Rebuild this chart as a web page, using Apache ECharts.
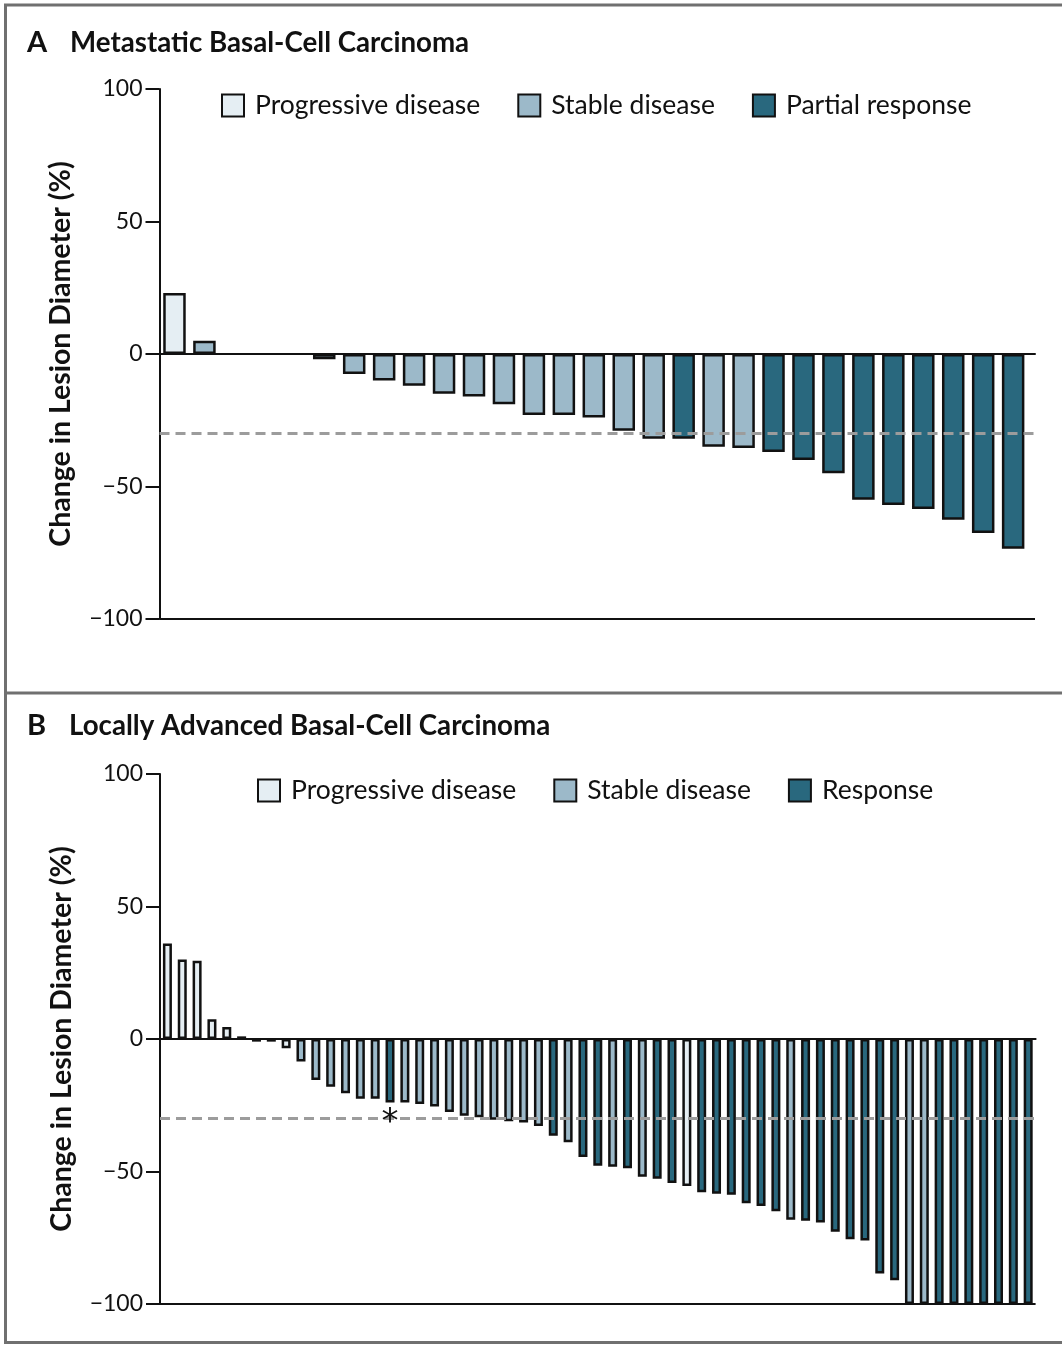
<!DOCTYPE html>
<html><head><meta charset="utf-8">
<script src="https://cdn.jsdelivr.net/npm/echarts@6/dist/echarts.min.js"></script>
<style>html,body{margin:0;padding:0;background:#fff}#c{width:1062px;height:1345px}</style>
</head><body><div id="c"></div>
<script>
// ---------- data ----------
const titleA = 'Metastatic Basal-Cell Carcinoma';
const titleB = 'Locally Advanced Basal-Cell Carcinoma';
const yAxisName = 'Change in Lesion Diameter (%)';
const statusNamesA = ['Progressive disease', 'Stable disease', 'Partial response'];
const statusNamesB = ['Progressive disease', 'Stable disease', 'Response'];
const statusColors = ['#e5eef3', '#9cb9c9', '#29687e'];
const yTickValues = [-100, -50, 0, 50, 100];
const thresholdPct = -30;

// Panel A: change per patient (%), and status index (0 = PD, 1 = SD, 2 = PR)
const aValues = [23, 5, 0, 0, 0, -2, -7.5, -10, -12, -15, -16, -19, -23, -23, -24, -29, -32, -32, -35, -35.5, -37, -40, -45, -55, -57, -58.5, -62.5, -67.5, -73.5];
const aStatus = [0, 1, 1, 1, 1, 1, 1, 1, 1, 1, 1, 1, 1, 1, 1, 1, 1, 2, 1, 1, 2, 2, 2, 2, 2, 2, 2, 2, 2];

// Panel B
const bValues = [36, 30, 29.5, 7.5, 4.5, 1, -1, -1, -3.5, -8.5, -15.5, -18, -20.5, -22.5, -22.5, -24, -24, -24.5, -25.5, -27.5, -29, -29.5, -30.5, -31, -31.5, -32.8, -36.5, -39, -44.5, -47.8, -48.2, -48.8, -52, -52.7, -54.3, -55.5, -57.8, -58.4, -58.8, -62, -63, -65, -68.2, -68.6, -69.2, -72.7, -75.6, -76, -88.5, -91, -100, -100, -100, -100, -100, -100, -100, -100, -100];
const bStatus = [0, 0, 0, 0, 0, 0, 1, 1, 0, 1, 1, 1, 1, 1, 1, 2, 1, 1, 1, 1, 1, 1, 1, 1, 1, 1, 2, 1, 2, 2, 1, 2, 1, 2, 2, 0, 2, 2, 2, 2, 2, 2, 1, 2, 2, 2, 2, 2, 2, 2, 1, 1, 2, 2, 2, 2, 2, 2, 2];
const bAsteriskIndex = 15;

// ---------- chart ----------
const FONT = 'Lato';
const INK = '#111';

function yAxisCfg(gi) {
  return {
    type: 'value', gridIndex: gi, min: yTickValues[0], max: yTickValues[yTickValues.length - 1], interval: 50,
    axisLine: { show: true, onZero: false, lineStyle: { color: INK, width: 2 } },
    axisTick: { show: true, inside: false, length: 14, lineStyle: { color: INK, width: 2 } },
    axisLabel: { fontSize: 23, color: INK, margin: 17, fontFamily: FONT,
      formatter: v => (v < 0 ? '\u2212' + Math.abs(v) : String(v)) },
    splitLine: { show: false },
    name: yAxisName, nameLocation: 'middle', nameRotate: 90, nameGap: 84,
    nameTextStyle: { fontSize: 28.5, fontWeight: 'bold', color: INK, fontFamily: FONT }
  };
}
function xAxisCfg(gi, n, extra) {
  return {
    type: 'value', gridIndex: gi, min: -0.5, max: n - 0.5 + extra,
    axisLine: { show: true, onZero: true, lineStyle: { color: INK, width: 2 } },
    axisTick: { show: false }, axisLabel: { show: false }, splitLine: { show: false }
  };
}
function panelSeries(gi, values, status, names, barWidth, asteriskIdx) {
  return names.map((nm, k) => {
    const s = {
      type: 'bar', name: nm, xAxisIndex: gi, yAxisIndex: gi,
      barWidth: barWidth, barGap: '-100%',
      itemStyle: { color: statusColors[k], borderColor: INK, borderWidth: 2.5 },
      data: values.map((v, i) => (v === 0 ? { value: [i, v], itemStyle: { borderWidth: 0 } } : [i, v]))
                  .filter((d, i) => status[i] === k),
      animation: false
    };
    if (k === 0) {
      s.markLine = {
        silent: true, symbol: 'none', label: { show: false }, animation: false,
        data: [
          { yAxis: thresholdPct, lineStyle: { type: [10, 6], color: '#9c9c9c', width: 3 } },
          { yAxis: yTickValues[0], lineStyle: { type: 'solid', color: INK, width: 2 } }
        ]
      };
    }
    if (k === 2 && asteriskIdx != null) {
      s.markPoint = {
        symbol: 'circle', symbolSize: 0, animation: false,
        data: [{ coord: [asteriskIdx, thresholdPct], value: '*' }],
        label: { show: true, position: 'inside', formatter: '*', fontSize: 34, color: INK, fontFamily: 'DejaVu Sans', offset: [0, 5] }
      };
    }
    return s;
  });
}

const chart = echarts.init(document.getElementById('c'), null, { renderer: 'canvas' });
const frame = '#707070';
chart.setOption({
  backgroundColor: '#fff',
  animation: false,
  textStyle: { fontFamily: FONT },
  title: [
    { text: 'A', left: 27, top: 28, padding: 0, textStyle: { fontSize: 29, fontWeight: 'bold', color: INK, fontFamily: FONT } },
    { text: titleA, left: 70, top: 29, padding: 0, textStyle: { fontSize: 27.7, fontWeight: 'bold', color: INK, fontFamily: FONT } },
    { text: 'B', left: 27, top: 711, padding: 0, textStyle: { fontSize: 29, fontWeight: 'bold', color: INK, fontFamily: FONT } },
    { text: titleB, left: 69, top: 712, padding: 0, textStyle: { fontSize: 27.7, fontWeight: 'bold', color: INK, fontFamily: FONT } }
  ],
  legend: [
    { data: statusNamesA, left: 221, top: 92, padding: 0, itemWidth: 22, itemHeight: 22, itemGap: 37, icon: 'rect',
      selectedMode: false, textStyle: { fontSize: 26.5, color: INK, fontFamily: FONT, padding: [0, 0, 0, 6] } },
    { data: statusNamesB, left: 257, top: 777, padding: 0, itemWidth: 22, itemHeight: 22, itemGap: 37, icon: 'rect',
      selectedMode: false, textStyle: { fontSize: 26.5, color: INK, fontFamily: FONT, padding: [0, 0, 0, 6] } }
  ],
  grid: [
    { left: 159.5, top: 89, width: 875.5, height: 530 },
    { left: 160, top: 774, width: 875.6, height: 530 }
  ],
  xAxis: [xAxisCfg(0, aValues.length, 0.23), xAxisCfg(1, bValues.length, 0)],
  yAxis: [yAxisCfg(0), yAxisCfg(1)],
  series: [].concat(
    panelSeries(0, aValues, aStatus, statusNamesA, 22.5),
    panelSeries(1, bValues, bStatus, statusNamesB, 9, bAsteriskIndex)
  ),
  graphic: [
    { type: 'line', shape: { x1: 4, y1: 5, x2: 1062, y2: 5 }, style: { stroke: frame, lineWidth: 3 } },
    { type: 'line', shape: { x1: 5.5, y1: 4, x2: 5.5, y2: 1344 }, style: { stroke: frame, lineWidth: 3 } },
    { type: 'line', shape: { x1: 4, y1: 693, x2: 1062, y2: 693 }, style: { stroke: frame, lineWidth: 3 } },
    { type: 'line', shape: { x1: 4, y1: 1342.5, x2: 1062, y2: 1342.5 }, style: { stroke: frame, lineWidth: 3 } }
  ]
});
</script>
</body></html>
